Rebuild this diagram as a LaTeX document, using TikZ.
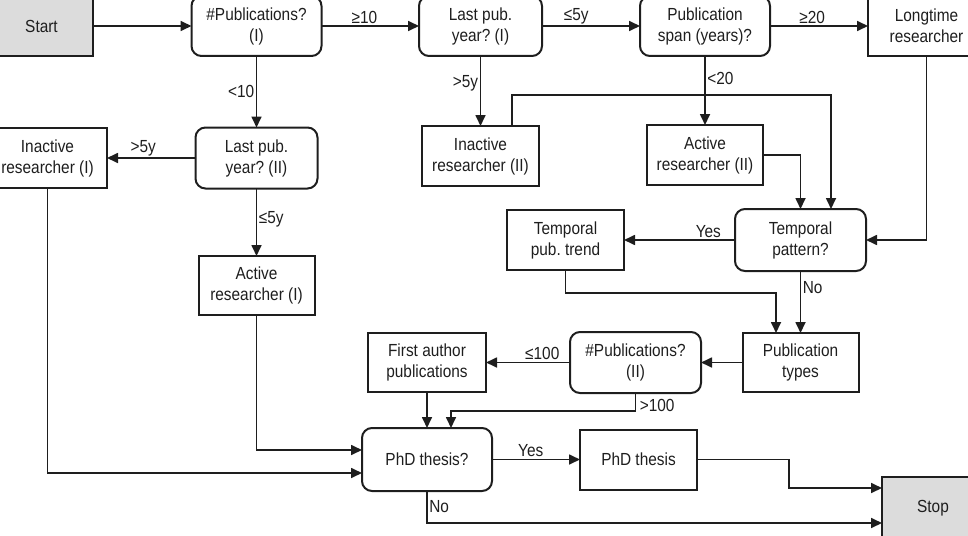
\documentclass[tikz,border=0pt]{standalone}
\usepackage{fontspec}
\setmainfont[FakeStretch=0.88]{Liberation Sans}
\usetikzlibrary{arrows.meta}
\definecolor{ink}{HTML}{1E1E1E}
\definecolor{termfill}{HTML}{DCDCDC}
\frenchspacing
\begin{document}
\begin{tikzpicture}[x=1pt,y=-1pt,
  base/.style={draw=ink, line width=2pt, align=center, font=\fontsize{17.5}{21}\selectfont\frenchspacing, text=ink, inner sep=0pt, outer sep=0pt},
  proc/.style={base, rectangle},
  decide/.style={base, rectangle, rounded corners=10pt},
  term/.style={base, fill=termfill},
  arr/.style={line width=1.7pt, draw=ink, -{Triangle[length=11pt,width=10pt]}},
  lbl/.style={font=\fontsize{17.5}{21}\selectfont, text=ink, inner sep=1.5pt},
]
\useasboundingbox (0,0) rectangle (968,535);
\clip (0,0) rectangle (968,535);
% top row
\node[term, minimum width=103pt, minimum height=60pt] (start) at (41.5,26) {Start};
\node[decide, minimum width=130pt, minimum height=60pt] (pub1) at (256.5,26) {\#Publications?\\(I)};
\node[decide, minimum width=123pt, minimum height=60pt] (lpy1) at (480.5,26) {Last pub.\\year? (I)};
\node[decide, minimum width=130pt, minimum height=60pt] (span) at (705,26) {Publication\\span (years)?};
\node[proc, minimum width=117pt, minimum height=60pt] (longtime) at (926.5,26) {Longtime\\researcher};
% second row
\node[proc, minimum width=119pt, minimum height=60pt] (inact1) at (47.5,158) {Inactive\\researcher (I)};
\node[decide, minimum width=122pt, minimum height=61pt] (lpy2) at (256.5,158) {Last pub.\\year? (II)};
\node[proc, minimum width=117pt, minimum height=60pt] (inact2) at (480.5,156) {Inactive\\researcher (II)};
\node[proc, minimum width=116pt, minimum height=60pt] (act2) at (705,155) {Active\\researcher (II)};
% third row
\node[proc, minimum width=117pt, minimum height=60pt] (tpt) at (565.5,240) {Temporal\\pub. trend};
\node[decide, minimum width=131pt, minimum height=62pt] (tp) at (800.5,240) {Temporal\\pattern?};
\node[proc, minimum width=116pt, minimum height=59pt] (act1) at (256.5,285.5) {Active\\researcher (I)};
% fourth row
\node[proc, minimum width=118pt, minimum height=59pt] (fap) at (427,362.5) {First author\\publications};
\node[decide, minimum width=131pt, minimum height=61pt] (pub2) at (635.5,362.5) {\#Publications?\\(II)};
\node[proc, minimum width=116pt, minimum height=59pt] (ptypes) at (800.5,362.5) {Publication\\types};
% bottom row
\node[decide, minimum width=130pt, minimum height=63pt] (phdq) at (427,459.5) {PhD thesis?};
\node[proc, minimum width=117pt, minimum height=60pt] (phd) at (638.5,459.5) {PhD thesis};
\node[term, minimum width=102pt, minimum height=62pt] (stop) at (933,508) {Stop};
% connectors
\draw[arr] (start) -- (pub1);
\draw[arr] (pub1) -- node[lbl, above, pos=0.44] (lge10) {≥10} (lpy1);
\draw[arr] (lpy1) -- node[lbl, above, pos=0.35] (lle5a) {≤5y} (span);
\draw[arr] (span) -- node[lbl, above, pos=0.43] (lge20) {≥20} (longtime);
\draw[arr] (pub1) -- node[lbl, left, pos=0.49] (llt10) {<10} (lpy2);
\draw[arr] (lpy2) -- node[lbl, above, pos=0.59] (lgt5a) {>5y} (inact1);
\draw[arr] (lpy2) -- node[lbl, right, pos=0.46] (lle5b) {≤5y} (act1);
\draw[arr] (lpy1) -- node[lbl, left, pos=0.39] (lgt5b) {>5y} (inact2);
\draw[arr] (span) -- node[lbl, right, pos=0.32] (llt20) {<20} (act2);
\draw[arr] ([xshift=31.5pt]inact2.north) |- (831,95) -- ([xshift=30.5pt]tp.north);
\draw[arr] (act2.east) -| (tp.north);
\draw[arr] (longtime.south) |- (tp.east);
\draw[arr] (tp) -- node[lbl, above, pos=0.24] (lyes1) {Yes} (tpt);
\draw[arr] (tp) -- node[lbl, right, pos=0.26] (lno1) {No} (ptypes);
\draw[arr] (tpt.south) |- (776,293) -- ([xshift=-24.5pt]ptypes.north);
\draw[arr] (ptypes) -- (pub2);
\draw[arr] (pub2) -- node[lbl, above, pos=0.33] (lle100) {≤100} (fap);
\draw[arr] (fap) -- (phdq);
\draw[arr] (pub2.south) -- node[lbl, right, pos=0.72, xshift=2pt] (lgt100) {>100} ++(0,18) -| ([xshift=24pt]phdq.north);
\draw[arr] (act1.south) |- ([yshift=9.5pt]phdq.west);
\draw[arr] (inact1.south) |- ([yshift=-13.5pt]phdq.west);
\draw[arr] (phdq) -- node[lbl, above, pos=0.44] (lyes2) {Yes} (phd);
\draw[arr] (phd.east) -| (789,488) -- ([yshift=20pt]stop.west);
\draw[arr] (phdq.south) -- node[lbl, right, pos=0.5] (lno2) {No} (427,523) -- ([yshift=-15pt]stop.west);
\end{tikzpicture}
\end{document}
